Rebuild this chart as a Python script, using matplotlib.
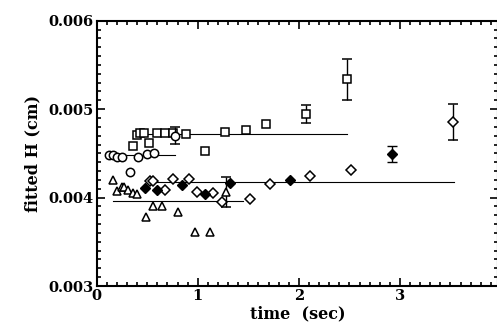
import numpy as np
import matplotlib.pyplot as plt
from matplotlib.ticker import MultipleLocator

# Cuadrados abiertos
sq_t = [0.356, 0.396, 0.429, 0.472, 0.515, 0.594, 0.677, 0.759, 0.881, 1.076, 1.274, 1.472, 1.677]
sq_h = [0.004588, 0.004708, 0.004727, 0.004727, 0.004614, 0.004727, 0.004727, 0.004727,
        0.004716, 0.004527, 0.004746, 0.004765, 0.004829]
sq_err_t = [2.073, 2.475]
sq_err_h = [0.004945, 0.005337]
sq_err = [0.000105, 0.000235]
sq_fit = 0.004716
sq_fit_t = [0.38, 2.475]

# Circulos abiertos
ci_t = [0.125, 0.165, 0.205, 0.251, 0.330, 0.413, 0.495, 0.571]
ci_h = [0.004482, 0.004482, 0.004463, 0.004463, 0.004294, 0.004456, 0.004493, 0.004508]
ci_err_t = [0.776]
ci_err_h = [0.004701]
ci_err = [0.0001]
ci_fit = 0.004482
ci_fit_t = [0.10, 0.776]

# Rombos abiertos
do_t = [0.528, 0.554, 0.680, 0.759, 0.914, 0.997, 1.155, 1.241, 1.518, 1.716, 2.112, 2.518]
do_h = [0.004188, 0.004188, 0.004087, 0.004211, 0.004211, 0.004064, 0.004049, 0.003955,
        0.003981, 0.004151, 0.004245, 0.004313]
do_err_t = [3.521]
do_err_h = [0.004859]
do_err = [0.000203]

# Rombos llenos
df_t = [0.479, 0.601, 0.842, 1.076, 1.320, 1.914]
df_h = [0.004105, 0.004087, 0.004139, 0.004041, 0.004169, 0.004200]
df_err_t = [2.921]
df_err_h = [0.004490]
df_err = [0.00009]
dia_fit = 0.004181
dia_fit_t = [0.495, 3.53]

# Triangulos abiertos
tr_t = [0.158, 0.205, 0.248, 0.274, 0.314, 0.356, 0.396, 0.485, 0.561, 0.644, 0.805, 0.970, 1.125]
tr_h = [0.004200, 0.004079, 0.004124, 0.004117, 0.004087, 0.004049, 0.004038, 0.003785,
        0.003910, 0.003906, 0.003838, 0.003608, 0.003608]
tr_err_t = [1.281]
tr_err_h = [0.004068]
tr_err = [0.00017]
tr_fit = 0.003959
tr_fit_t = [0.158, 1.446]

plt.rcParams['font.family'] = 'DejaVu Serif'
plt.rcParams['font.weight'] = 'bold'

fig = plt.figure(figsize=(4.97, 3.30), dpi=100)
ax = fig.add_axes([0.1946, 0.1333, 0.8074, 0.804])

ms = 6
mew = 1.1
op = dict(mfc='white', mec='black', mew=mew, ms=ms, ls='none')
eb = dict(ecolor='black', elinewidth=1.0, capsize=3.5, capthick=1.0, ls='none')

# Lineas de ajuste
for fit_t, fit in [(sq_fit_t, sq_fit), (ci_fit_t, ci_fit), (dia_fit_t, dia_fit), (tr_fit_t, tr_fit)]:
    ax.plot(fit_t, [fit, fit], color='black', lw=0.8)

ax.plot(sq_t, sq_h, marker='s', **op)
ax.errorbar(sq_err_t, sq_err_h, yerr=sq_err, marker='s', mfc='white', mec='black', mew=mew, ms=ms, **eb)

ax.plot(ci_t, ci_h, marker='o', **op)
ax.errorbar(ci_err_t, ci_err_h, yerr=ci_err, marker='o', mfc='white', mec='black', mew=mew, ms=ms, **eb)

ax.plot(do_t, do_h, marker='D', mfc='white', mec='black', mew=mew, ms=5, ls='none')
ax.errorbar(do_err_t, do_err_h, yerr=do_err, marker='D', mfc='white', mec='black', mew=mew, ms=5, **eb)

ax.plot(df_t, df_h, marker='D', mfc='black', mec='black', ms=5, ls='none')
ax.errorbar(df_err_t, df_err_h, yerr=df_err, marker='D', mfc='black', mec='black', ms=5, **eb)

ax.plot(tr_t, tr_h, marker='^', **op)
ax.errorbar(tr_err_t, tr_err_h, yerr=tr_err, marker='^', mfc='white', mec='black', mew=mew, ms=ms, **eb)

ax.set_xlim(0, 3.97)
ax.set_ylim(0.003, 0.006)
ax.xaxis.set_major_locator(MultipleLocator(1))
ax.xaxis.set_minor_locator(MultipleLocator(0.1))
ax.yaxis.set_minor_locator(MultipleLocator(0.0001))
ax.set_yticks([0.003, 0.004, 0.005, 0.006])
ax.set_yticklabels(['0.003', '0.004', '0.005', '0.006'])

ax.tick_params(which='both', direction='in', top=True, right=True, width=1.2)
ax.tick_params(which='major', length=6, labelsize=10.5, pad=2)
ax.tick_params(which='minor', length=3)
for s in ax.spines.values():
    s.set_linewidth(1.5)

ax.set_xlabel('time  (sec)', fontsize=11.5, fontweight='bold', labelpad=2)
ax.set_ylabel('fitted H (cm)', fontsize=11.5, fontweight='bold', labelpad=5)

fig.savefig('out.png', dpi=100)
